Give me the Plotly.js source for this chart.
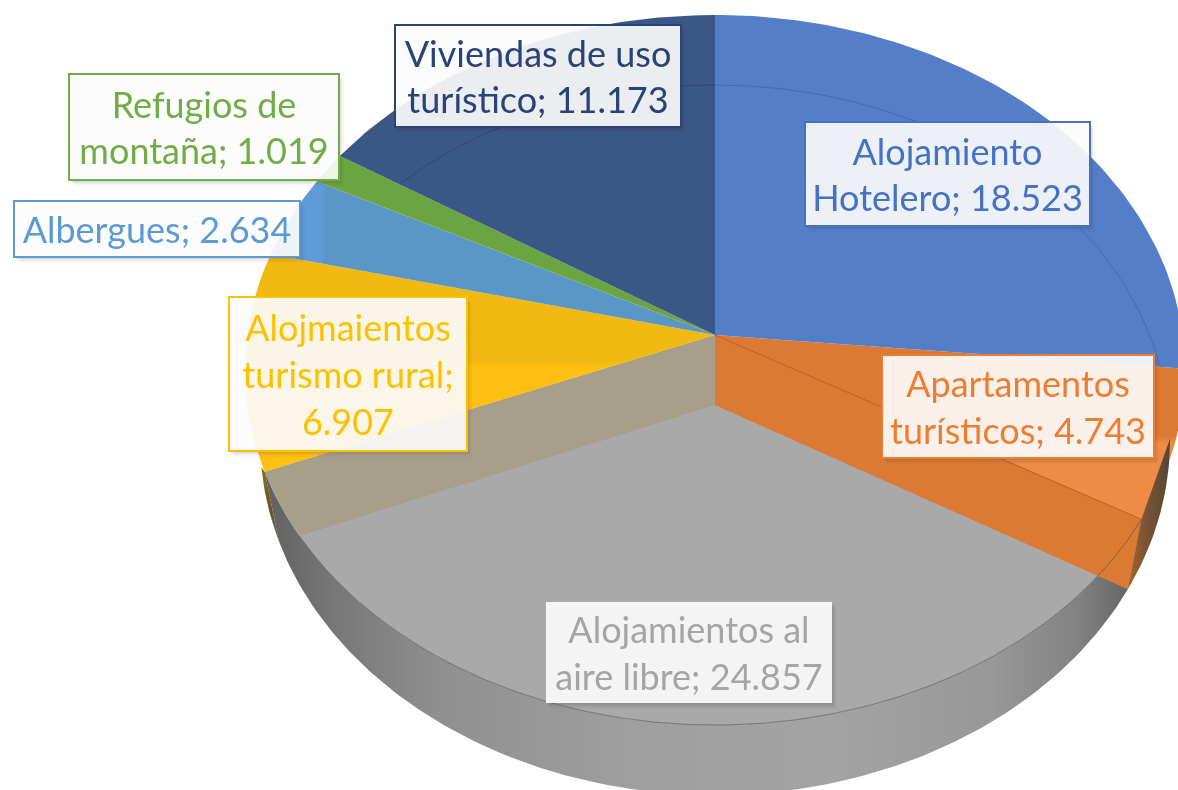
<!DOCTYPE html>
<html>
<head>
<meta charset="utf-8">
<script src="https://cdn.plot.ly/plotly-3.0.1.min.js"></script>
<style>
html,body{margin:0;padding:0;background:#fff;overflow:hidden}
#chart{width:1178px;height:790px;filter:blur(0.7px)}
</style>
</head>
<body>
<div id="chart"></div>
<script>
// ---- data ----
const categories = ["Alojamiento Hotelero","Apartamentos turísticos","Alojamientos al aire libre","Alojmaientos turismo rural","Albergues","Refugios de montaña","Viviendas de uso turístico"];
const values = [18523, 4743, 24857, 6907, 2634, 1019, 11173];
const labelLines = [["Alojamiento","Hotelero;"],["Apartamentos","turísticos;"],["Alojamientos al","aire libre;"],["Alojmaientos","turismo rural;",""],["Albergues;"],["Refugios de","montaña;"],["Viviendas de uso","turístico;"]];
const labelColors = ["#4472c4","#ed7d31","#a5a5a5","#ffc000","#5b9bd5","#70ad47","#264478"];
const sliceColors = ["#557ec8","#dc7a33","#a9a9a9","#f1b911","#5a96c6","#6ba542","#3b5785"];
// label boxes in axis units: left, right, top, bottom
const boxes = [[805,1090,122,226],[882,1154,355,458],[546,832,602,703],[229,467,297,451],[14,300,201,257],[69,339,74,180],[395,681,25,127]];

// ---- perspective of the tilted disc ----
const apexTop = {x:715, y:335}, apexLow = {x:715, y:405};
const ringTop = {cx:715, cy:370, rx:470, ry:355};
const ringLow = {cx:715, cy:440, rx:455, ry:355};
const tilt = 35/355;
function project(deg, e){
  const t = deg*Math.PI/180, sx = Math.sin(t), sy = Math.cos(t), d = 1+tilt*sy;
  return {x:e.cx + e.rx*sx*Math.sqrt(1-tilt*tilt)/d, y:e.cy - e.ry*(sy+tilt)/d};
}
function arc(a,b,e){
  const n = Math.max(2,Math.ceil(Math.abs(b-a))), pts=[];
  for(let i=0;i<=n;i++) pts.push(project(a+(b-a)*i/n,e));
  return pts;
}
const total = values.reduce((s,v)=>s+v,0);
const edges = [0]; values.forEach(v=>edges.push(edges[edges.length-1]+v/total*360));
const fmt = v => String(v).replace(/\B(?=(\d{3})+$)/g,".");
function side(p,a,b){return (b.x-a.x)*(p.y-a.y)-(b.y-a.y)*(p.x-a.x);}

// ---- traces ----
const traces=[];
function poly(pts,color,gradient){
  const t={type:"scatter",mode:"lines",x:pts.map(p=>p.x),y:pts.map(p=>p.y),fill:"toself",
    fillcolor:color,line:{width:0,color:color},hoverinfo:"skip",showlegend:false};
  if(gradient) t.fillgradient=gradient;
  traces.push(t);
}
function stroke(pts,color,w){
  traces.push({type:"scatter",mode:"lines",x:pts.map(p=>p.x),y:pts.map(p=>p.y),
    line:{width:w,color:color},hoverinfo:"skip",showlegend:false});
}
const [e0,e1,e2,e3,e4,e5,e6,e7]=edges;

// grey outer wall
poly(arc(e2,e3,ringLow).concat(arc(e3,e2,ringTop)),sliceColors[2],
  {type:"horizontal",start:260,stop:1140,colorscale:[[0,"#5f5f5f"],[0.08,"#767676"],[0.2,"#8f8f8f"],[0.42,"#9f9f9f"],[0.65,"#a3a3a3"],[0.83,"#989898"],[0.93,"#828282"],[1,"#5e5e5e"]]});
// grey top surface
poly([apexTop].concat(arc(e2,e3,ringTop)),sliceColors[2]);
// inner wall seen through the rural slice
const lowLeft = project(e3,ringLow), lowRight = project(e2,ringLow);
let cross = e3;
while(cross>e2 && side(project(cross,ringTop),apexLow,lowLeft)>0) cross-=0.25;
poly([apexTop,apexLow].concat(arc(cross,e3,ringTop)),"#a89f8b");
// apartments: top surface, inner wall, outer wall
poly([apexTop].concat(arc(e1,e2,ringTop)),sliceColors[1],
  {type:"vertical",start:335,stop:540,colorscale:[[0,"#dc7a33"],[0.49,"#dc7a33"],[0.53,"#ee8b46"],[1,"#ee8b46"]]});
poly([apexTop,project(e2,ringTop),lowRight,apexLow],sliceColors[1]);
poly([project(e2,ringTop)].concat(arc(e2,e1,ringLow)),"#7a5030",
  {type:"horizontal",start:1125,stop:1175,colorscale:[[0,"#b0682c"],[0.4,"#7b5433"],[1,"#4f4336"]]});
// rural outer wall, then the upper slices
poly([project(e3,ringTop)].concat(arc(e3,e3+12,ringLow)),"#8a6a10",
  {type:"horizontal",start:255,stop:280,colorscale:[[0,"#c79a14"],[0.5,"#6d5a20"],[1,"#5a5a55"]]});
poly([apexTop].concat(arc(e3,e4,ringTop)),sliceColors[3],
  {type:"vertical",start:254,stop:475,colorscale:[[0,"#f1b911"],[0.48,"#f1b911"],[0.52,"#ffc012"],[1,"#ffc012"]]});
poly([apexTop].concat(arc(e4,e5,ringTop)),sliceColors[4],
  {type:"horizontal",start:300,stop:715,colorscale:[[0,"#5f9bd8"],[0.05,"#5f9bd8"],[0.065,"#5a96c6"],[1,"#5a96c6"]]});
poly([apexTop].concat(arc(e5,e6,ringTop)),sliceColors[5]);
poly([apexTop].concat(arc(e6,e7,ringTop)),sliceColors[6]);
poly([apexTop].concat(arc(e0,e1,ringTop)),sliceColors[0]);

// rim lines
stroke(arc(e2,cross,ringTop),"rgba(85,85,85,0.65)",1);
stroke([apexTop,project(e2,ringTop)],"rgba(170,85,30,0.8)",1);
const ghostStart = project(e6,ringTop), ghostEnd = project(e1,ringTop);
stroke(arc(e6,e7,ringLow).filter(p=>side(p,apexTop,ghostStart)>0),"rgba(35,55,105,0.55)",1);
stroke(arc(e0,e1,ringLow).filter(p=>side(p,apexTop,ghostEnd)<0),"rgba(55,85,150,0.5)",1);

// ---- labels ----
const shapes=[], annotations=[];
categories.forEach((c,i)=>{
  const [l,r,t,b]=boxes[i];
  [[5,6,0.04],[3,4,0.06],[1.5,2,0.08]].forEach(([dx,dy,op])=>{
    shapes.push({type:"rect",xref:"x",yref:"y",x0:l+dx,x1:r+dx,y0:t+dy,y1:b+dy,
      line:{width:0},fillcolor:"rgba(40,40,40,"+op+")",layer:"above"});
  });
  const lines=labelLines[i].slice(), num=fmt(values[i]);
  if(lines[lines.length-1]==="") lines[lines.length-1]=num;
  else lines[lines.length-1]+=" "+num;
  annotations.push({xref:"x",yref:"y",x:(l+r)/2,y:(t+b)/2,xanchor:"center",yanchor:"middle",
    width:r-l-2,height:b-t-2,align:"center",valign:"middle",showarrow:false,borderpad:0,borderwidth:2,
    bordercolor:i===2?"rgba(255,255,255,0)":labelColors[i],bgcolor:"rgba(255,255,255,0.9)",
    text:lines.join("<br>"),font:{family:"Lato, 'Noto Sans', sans-serif",size:36,color:labelColors[i]}});
});

Plotly.newPlot("chart",traces,{
  width:1178,height:790,margin:{l:0,r:0,t:0,b:0,pad:0},
  paper_bgcolor:"#ffffff",plot_bgcolor:"#ffffff",showlegend:false,
  xaxis:{range:[0,1178],visible:false,fixedrange:true},
  yaxis:{range:[790,0],visible:false,fixedrange:true},
  shapes:shapes,annotations:annotations
},{displayModeBar:false,staticPlot:true});
</script>
</body>
</html>
